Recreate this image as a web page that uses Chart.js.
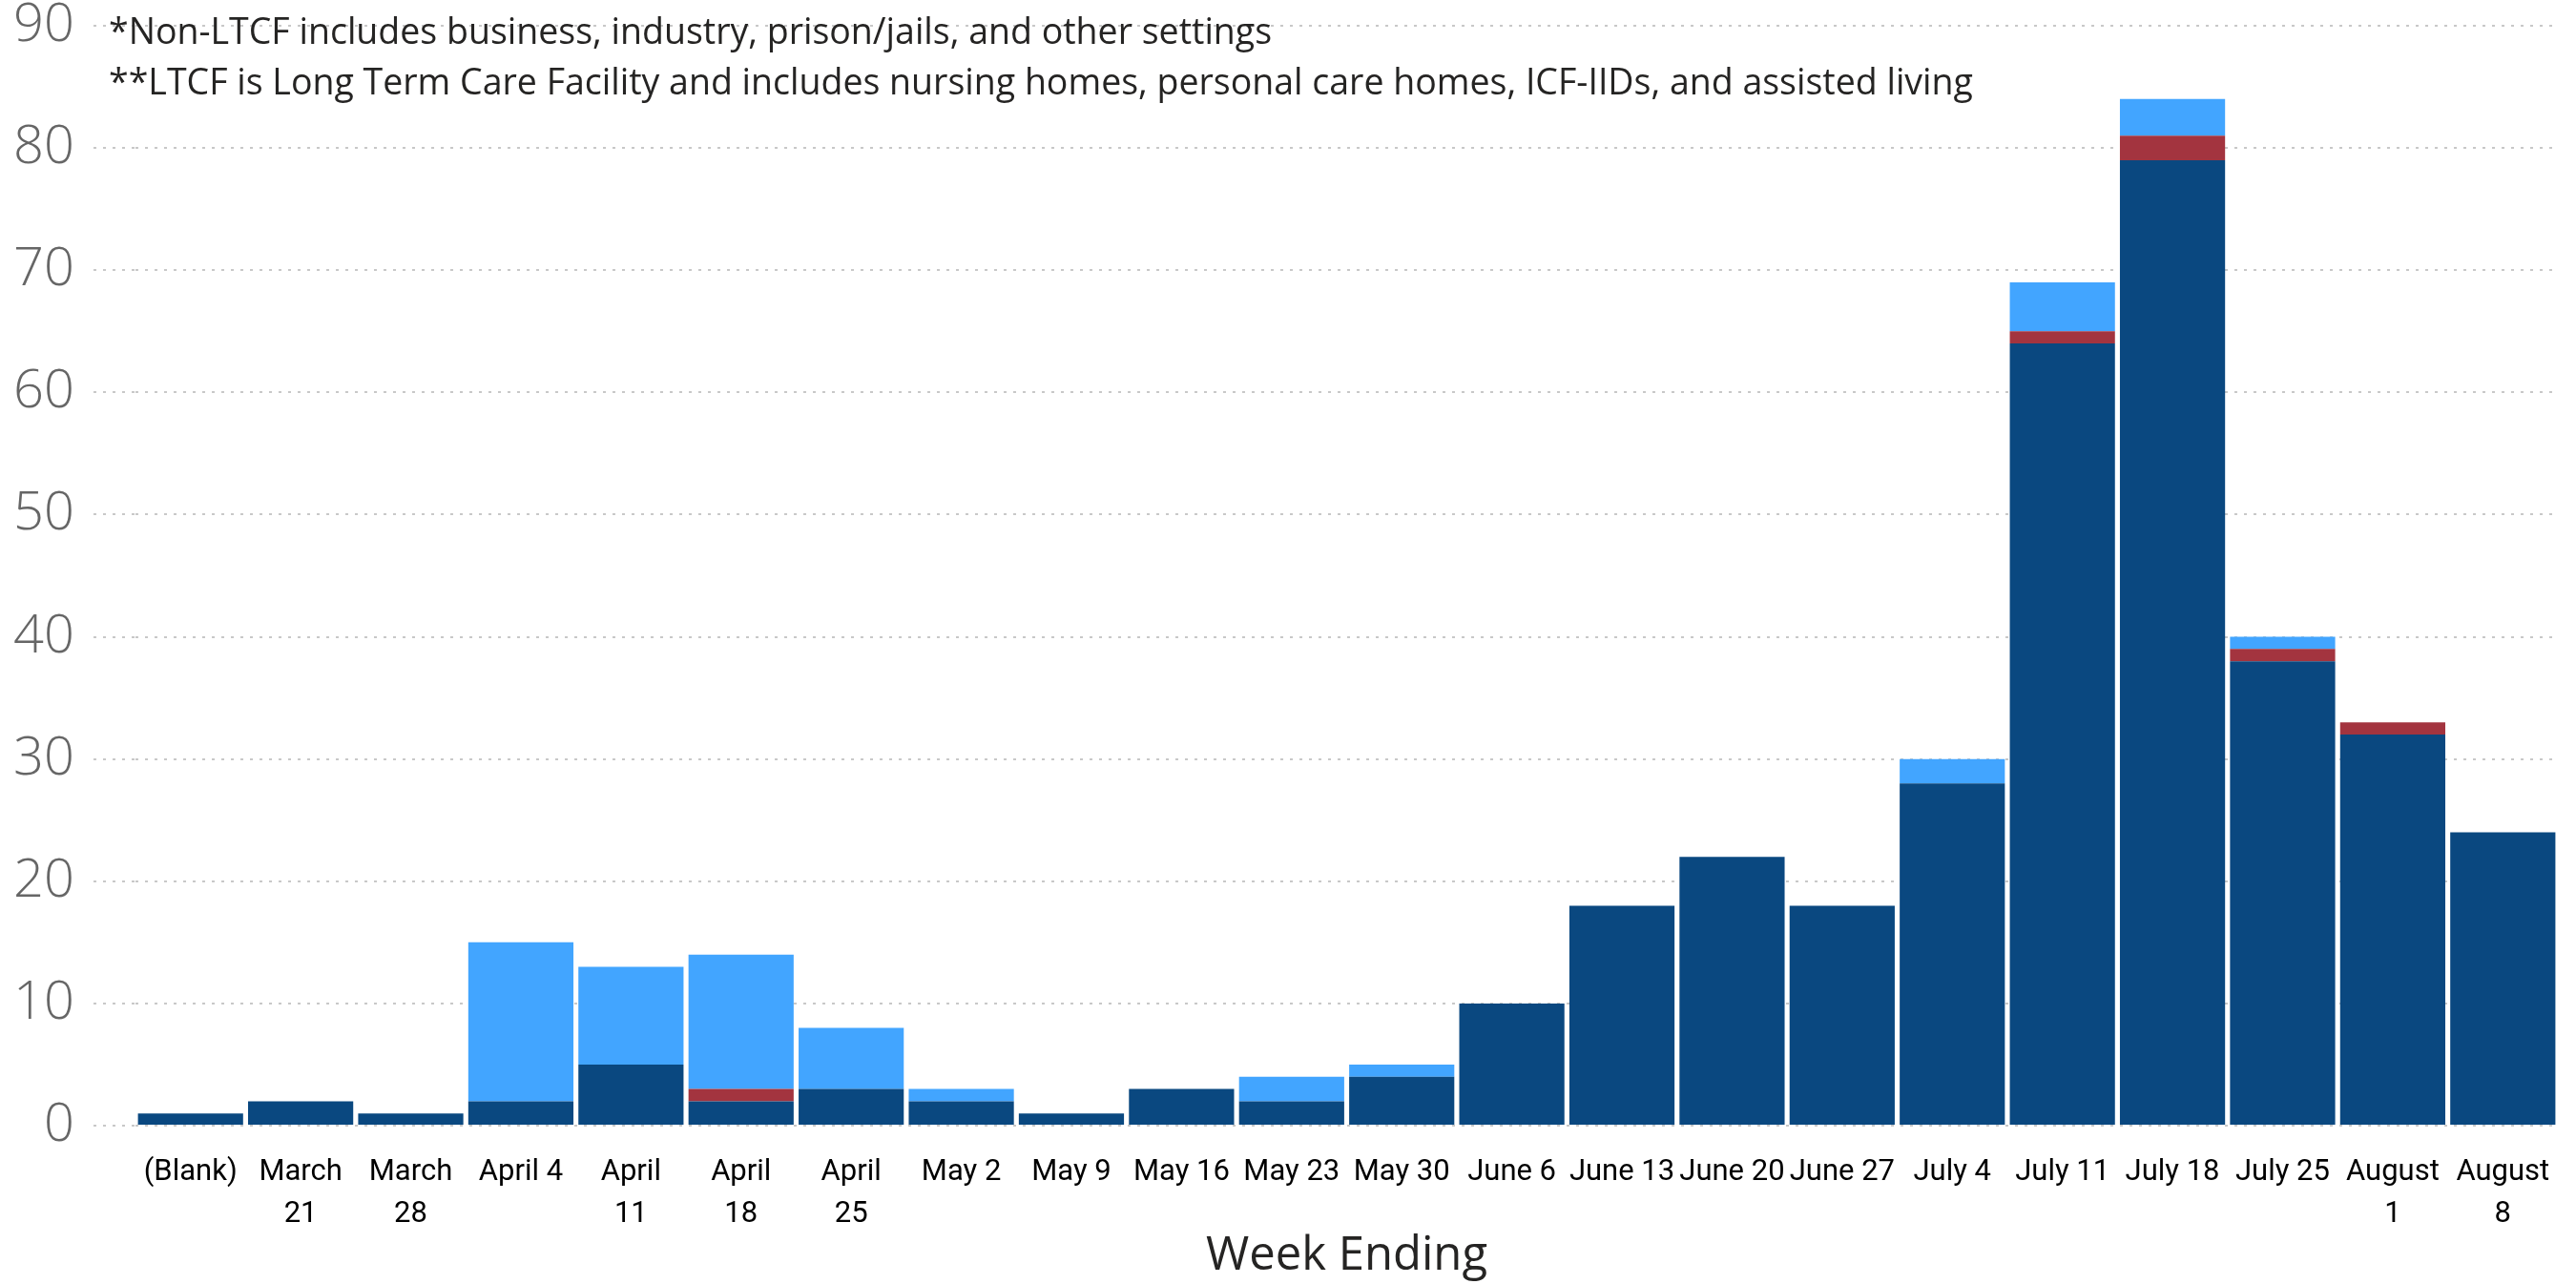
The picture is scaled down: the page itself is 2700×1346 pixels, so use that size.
<!DOCTYPE html>
<html>
<head>
<meta charset="utf-8">
<script src="https://cdn.jsdelivr.net/npm/chart.js@4.4.1/dist/chart.umd.min.js"></script>
<style>
  html, body { margin: 0; padding: 0; background: #ffffff; }
  #wrap { width: 2700px; height: 1346px; position: relative; }
</style>
</head>
<body>
<div id="wrap"><canvas id="c" width="2700" height="1346"></canvas></div>
<script>
const categories = [
  "(Blank)", ["March", "21"], ["March", "28"], "April 4", ["April", "11"], ["April", "18"], ["April", "25"],
  "May 2", "May 9", "May 16", "May 23", "May 30", "June 6", "June 13", "June 20", "June 27",
  "July 4", "July 11", "July 18", "July 25", ["August", "1"], ["August", "8"]
];
const nonLtcf = [1, 2, 1, 2, 5, 2, 3, 2, 1, 3, 2, 4, 10, 18, 22, 18, 28, 64, 79, 38, 32, 24];
const other   = [0, 0, 0, 0, 0, 1, 0, 0, 0, 0, 0, 0, 0, 0, 0, 0, 0, 1, 2, 1, 1, 0];
const ltcf    = [0, 0, 0, 13, 8, 11, 5, 1, 0, 0, 2, 1, 0, 0, 0, 0, 2, 4, 3, 1, 0, 0];
const yTicks  = [0, 10, 20, 30, 40, 50, 60, 70, 80, 90];
const notes = [
  "*Non-LTCF includes business, industry, prison/jails, and other settings",
  "**LTCF is Long Term Care Facility and includes nursing homes, personal care homes, ICF-IIDs, and assisted living"
];
const xTitle = "Week Ending";

const notesPlugin = {
  id: 'notes',
  afterDraw(chart) {
    const ctx = chart.ctx;
    ctx.save();
    ctx.fillStyle = '#252423';
    ctx.font = '37.5px "Open Sans"';
    ctx.textBaseline = 'alphabetic';
    ctx.textAlign = 'left';
    ctx.fillText(notes[0], 114, 46);
    ctx.fillText(notes[1], 114, 99);
    ctx.restore();
  }
};

const gridColor = '#c8c8c8';

new Chart(document.getElementById('c'), {
  type: 'bar',
  data: {
    labels: categories,
    datasets: [
      { label: 'Non-LTCF*', data: nonLtcf, backgroundColor: '#0A4880' },
      { label: 'Other', data: other, backgroundColor: '#A3343F' },
      { label: 'LTCF**', data: ltcf, backgroundColor: '#42A5FF' }
    ]
  },
  options: {
    responsive: false,
    animation: false,
    devicePixelRatio: 1,
    layout: { padding: { top: 0, right: 19, left: 0, bottom: 0 } },
    datasets: { bar: { categoryPercentage: 1.0, barPercentage: 0.955, borderWidth: 0 } },
    plugins: {
      legend: { display: false },
      tooltip: { enabled: false }
    },
    scales: {
      x: {
        stacked: true,
        afterFit(scale) { scale.height = 166; },
        grid: { display: false, drawTicks: false },
        border: { display: false },
        ticks: {
          color: '#000000',
          font: { family: 'Roboto', size: 31, lineHeight: 1.42 },
          padding: 27,
          maxRotation: 0,
          minRotation: 0,
          autoSkip: false
        },
        title: {
          display: true,
          text: xTitle,
          color: '#252423',
          font: { family: 'Open Sans', size: 49, weight: '500', lineHeight: 1.2 },
          padding: { top: 0, bottom: 0 }
        }
      },
      y: {
        stacked: true,
        min: 0,
        max: 90,
        afterBuildTicks(scale) { scale.ticks = yTicks.map(v => ({ value: v })); },
        afterFit(scale) { scale.width = 142; scale.paddingTop = 27; scale.paddingBottom = 0; },
        grid: {
          color: gridColor,
          lineWidth: 2,
          drawTicks: true,
          tickLength: 44,
          tickColor: gridColor,
          tickWidth: 2,
          tickBorderDash: [3, 7],
          borderDash: [3, 7]
        },
        border: { display: false, dash: [3, 7] },
        ticks: {
          color: '#666666',
          font: { family: 'Open Sans', size: 56, weight: '300', lineHeight: 1.0 },
          padding: 20
        }
      }
    }
  },
  plugins: [notesPlugin]
});
</script>
</body>
</html>
